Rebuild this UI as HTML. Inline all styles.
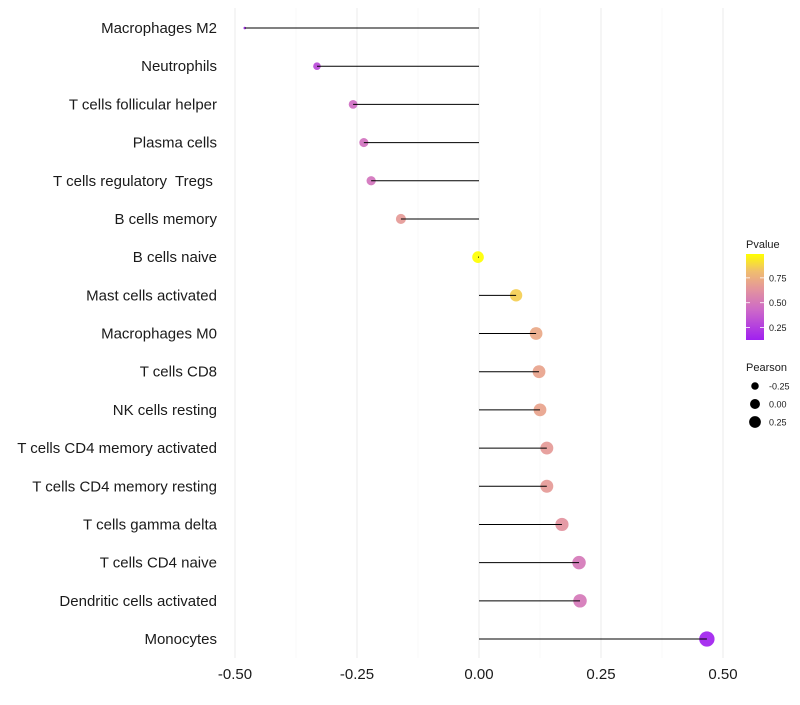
<!DOCTYPE html>
<html><head><meta charset="utf-8"><style>
body{margin:0;background:#fff;width:800px;height:700px;overflow:hidden}
svg{font-family:"Liberation Sans",sans-serif}
text{white-space:pre}
</style></head><body>
<svg id="chart" width="800" height="700" xmlns="http://www.w3.org/2000/svg"></svg>
<script>
const categories=["Macrophages M2","Neutrophils","T cells follicular helper","Plasma cells","T cells regulatory  Tregs ","B cells memory","B cells naive","Mast cells activated","Macrophages M0","T cells CD8","NK cells resting","T cells CD4 memory activated","T cells CD4 memory resting","T cells gamma delta","T cells CD4 naive","Dendritic cells activated","Monocytes"];
const pearson=[-0.48,-0.332,-0.258,-0.236,-0.221,-0.16,-0.002,0.076,0.117,0.123,0.125,0.139,0.139,0.17,0.205,0.207,0.467];
const pvalues=[0.14,0.3,0.45,0.47,0.48,0.66,0.99,0.86,0.72,0.7,0.7,0.66,0.66,0.63,0.5,0.5,0.13];
const xTicks=[-0.5,-0.25,0,0.25,0.5];
const xTickLabels=["-0.50","-0.25","0.00","0.25","0.50"];
const pTicks=[0.25,0.5,0.75];
const pTickLabels=["0.25","0.50","0.75"];
const sizeLegend=[-0.25,0,0.25];
const sizeLegendLabels=["-0.25","0.00","0.25"];

const svg=document.getElementById('chart');
const NS='http://www.w3.org/2000/svg';
function mk(t,a,p){const e=document.createElementNS(NS,t);for(const k in a)e.setAttribute(k,a[k]);(p||svg).appendChild(e);return e;}
const x=v=>479+v*488;
const y=i=>28+i*((639-28)/16);
const pMin=0.125,pMax=0.99;
const stops=[[0,[160,32,240]],[0.35,[205,105,200]],[0.6,[228,150,155]],[0.8,[240,190,110]],[1,[255,255,0]]];
function col(p){let t=Math.max(0,Math.min(1,(p-pMin)/(pMax-pMin)));for(let i=1;i<stops.length;i++){if(t<=stops[i][0]){const a=stops[i-1],b=stops[i],f=(t-a[0])/(b[0]-a[0]);return 'rgb('+a[1].map((c,j)=>Math.round(c+(b[1][j]-c)*f)).join(',')+')';}}return 'rgb(255,255,0)';}
const vMin=Math.min(...pearson),vMax=Math.max(...pearson);
const rad=v=>{const s=1+5*Math.sqrt(Math.max(0,(v-vMin)/(vMax-vMin)));return s*1.28;};

for(let v=-0.5;v<=0.5001;v+=0.125){const major=Math.abs(v/0.25-Math.round(v/0.25))<1e-6;
const g=mk('line',{x1:x(v),x2:x(v),y1:8,y2:658,stroke:major?'#ebebeb':'#f5f5f5','stroke-width':major?1:0.6});

}
categories.forEach((c,i)=>{
const lab=mk('text',{x:217,y:y(i)+5,'text-anchor':'end','font-size':15,fill:'#1a1a1a'});lab.textContent=c;


const d=mk('circle',{cx:x(pearson[i]),cy:y(i),r:rad(pearson[i]),fill:col(pvalues[i]),'fill-opacity':0.92});


const s=mk('line',{x1:x(0),x2:x(pearson[i]),y1:y(i),y2:y(i),stroke:'#000','stroke-width':1});


});
xTicks.forEach((v,i)=>{const t=mk('text',{x:x(v),y:679,'text-anchor':'middle','font-size':15,fill:'#1a1a1a'});t.textContent=xTickLabels[i];

});
const lt=mk('text',{x:746,y:248,'font-size':11,fill:'#1a1a1a'});lt.textContent='Pvalue';


const defs=mk('defs',{});const gr=mk('linearGradient',{id:'pg',x1:0,y1:1,x2:0,y2:0},defs);
stops.forEach(s=>mk('stop',{offset:s[0],'stop-color':'rgb('+s[1].join(',')+')'},gr));
const barTop=254,barBot=340;
const py=p=>barBot-(p-pMin)/(pMax-pMin)*(barBot-barTop);
const bar=mk('rect',{x:746,y:barTop,width:18,height:barBot-barTop,fill:'url(#pg)'});


pTicks.forEach((p,i)=>{mk('line',{x1:746,x2:750,y1:py(p),y2:py(p),stroke:'#fff','stroke-width':0.8});mk('line',{x1:760,x2:764,y1:py(p),y2:py(p),stroke:'#fff','stroke-width':0.8});
const t=mk('text',{x:769,y:py(p)+3.5,'font-size':9,fill:'#1a1a1a'});t.textContent=pTickLabels[i];

});
const st=mk('text',{x:746,y:371,'font-size':11,fill:'#1a1a1a'});st.textContent='Pearson';


sizeLegend.forEach((v,i)=>{const cy=386+i*18;
const c=mk('circle',{cx:755,cy:cy,r:rad(v)*0.85,fill:'#000'});


const t=mk('text',{x:769,y:cy+3.5,'font-size':9,fill:'#1a1a1a'});t.textContent=sizeLegendLabels[i];

});
</script>
</body></html>
